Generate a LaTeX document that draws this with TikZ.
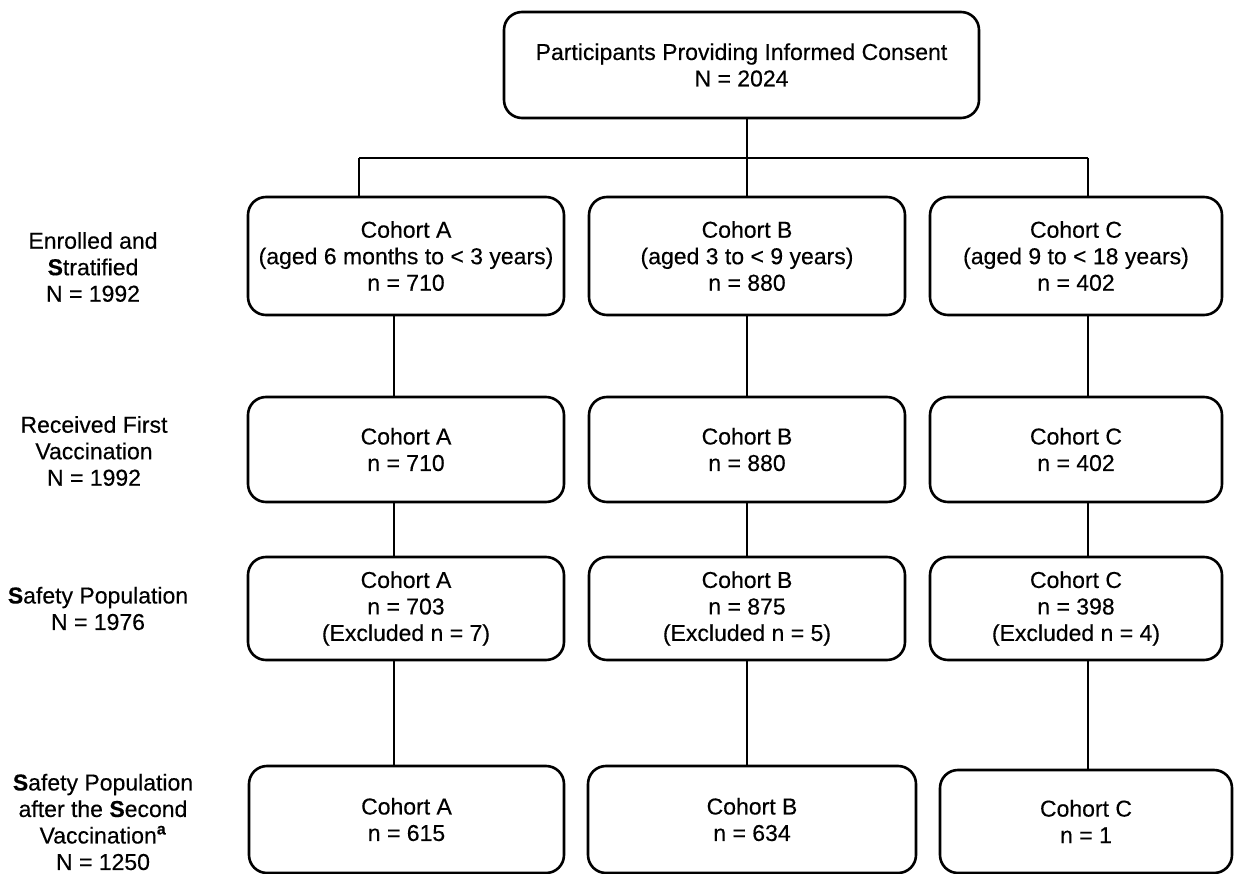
\documentclass[tikz,border=0pt]{standalone}
\usepackage{fontspec}
\setmainfont{Liberation Sans}[FakeBold=0.35]
\begin{document}
\begin{tikzpicture}[x=1pt,y=-1pt,
  box/.style={draw, line width=2.6pt, rounded corners=18pt, align=center, inner sep=0pt,
    font=\fontsize{23}{26.5}\selectfont},
  lbl/.style={align=center, inner sep=0pt, font=\fontsize{23}{26.5}\selectfont},
  conn/.style={line width=2.6pt}]
\useasboundingbox (0,0) rectangle (1234,874);
% top
\node[box, minimum width=475pt, minimum height=106pt] (top) at (741.5,65)
  {Participants Providing Informed Consent\\N = 2024};
% row 1
\node[box, minimum width=316pt, minimum height=118pt] (A1) at (406,256)
  {Cohort A\\(aged 6 months to < 3 years)\\n = 710};
\node[box, minimum width=316pt, minimum height=118pt] (B1) at (747,256)
  {Cohort B\\(aged 3 to < 9 years)\\n = 880};
\node[box, minimum width=292pt, minimum height=118pt] (C1) at (1076,256)
  {Cohort C\\(aged 9 to < 18 years)\\n = 402};
% row 2
\node[box, minimum width=316pt, minimum height=105pt] (A2) at (406,449.5) {Cohort A\\n = 710};
\node[box, minimum width=316pt, minimum height=105pt] (B2) at (747,449.5) {Cohort B\\n = 880};
\node[box, minimum width=292pt, minimum height=105pt] (C2) at (1076,449.5) {Cohort C\\n = 402};
% row 3
\node[box, minimum width=316pt, minimum height=103pt] (A3) at (406,608.5) {Cohort A\\n = 703\\(Excluded n = 7)};
\node[box, minimum width=316pt, minimum height=103pt] (B3) at (747,608.5) {Cohort B\\n = 875\\(Excluded n = 5)};
\node[box, minimum width=292pt, minimum height=103pt] (C3) at (1076,608.5) {Cohort C\\n = 398\\(Excluded n = 4)};
% row 4
\node[box, minimum width=315pt, minimum height=107pt] (A4) at (406.5,819.5) {Cohort A\\n = 615};
\node[box, minimum width=328pt, minimum height=107pt] (B4) at (752,819.5) {Cohort B\\n = 634};
\node[box, minimum width=292pt, minimum height=103pt] (C4) at (1086,821.5) {Cohort C\\n = 1};
% labels
\node[lbl] (L1) at (93,267) {Enrolled and\\\textbf{S}tratified\\N = 1992};
\node[lbl] (L2) at (94,451) {Received First\\Vaccination\\N = 1992};
\node[lbl] (L3) at (98,608.5) {\textbf{S}afety Population\\N = 1976};
\node[lbl] (L4) at (103,822) {\textbf{S}afety Population\\after the \textbf{S}econd\\Vaccination\textsuperscript{\textbf{a}}\\N = 1250};
% connectors
\coordinate (xA) at (394,0);
\coordinate (xC) at (1088,0);
\coordinate (hl) at (359,158);
\coordinate (hr) at (1088,158);
\draw[conn] (top.south -| B1.north) -- (B1.north);
\draw[conn] (hl) -- (hr);
\draw[conn] (hl) -- (hl |- A1.north);
\draw[conn] (hr) -- (hr |- C1.north);
\draw[conn] (A1.south -| xA) -- (A2.north -| xA);
\draw[conn] (A2.south -| xA) -- (A3.north -| xA);
\draw[conn] (A3.south -| xA) -- (A4.north -| xA);
\draw[conn] (B1.south) -- (B2.north);
\draw[conn] (B2.south) -- (B3.north);
\draw[conn] (B3.south) -- (B3.south |- B4.north);
\draw[conn] (C1.south -| xC) -- (C2.north -| xC);
\draw[conn] (C2.south -| xC) -- (C3.north -| xC);
\draw[conn] (C3.south -| xC) -- (C4.north -| xC);
\end{tikzpicture}
\end{document}
